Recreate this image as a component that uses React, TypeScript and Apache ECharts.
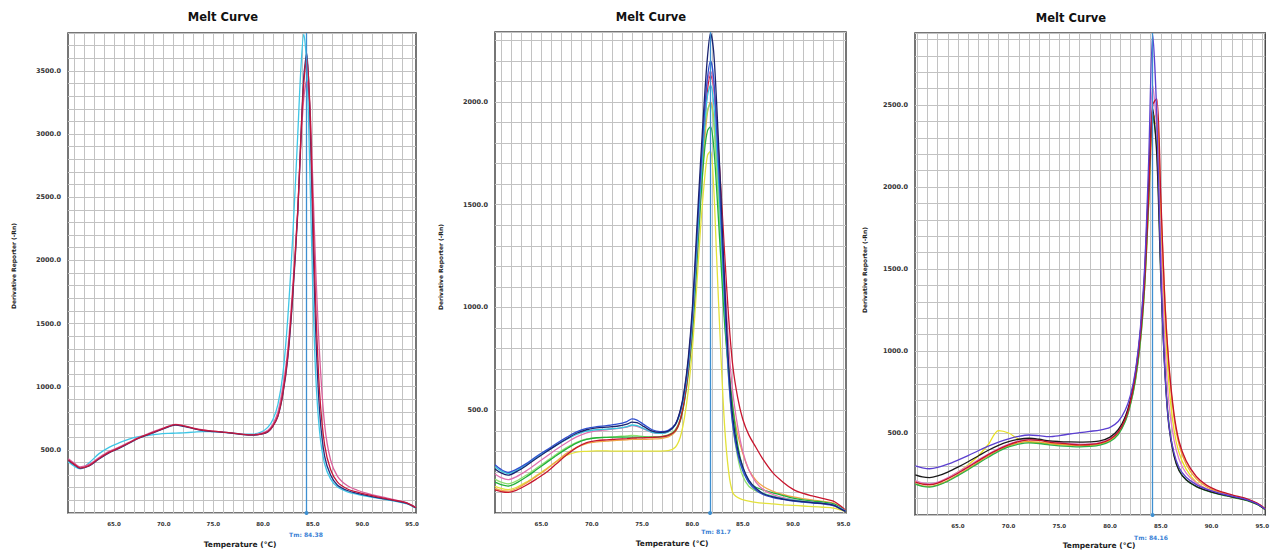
import React, { useEffect, useRef } from "react";
import * as echarts from "echarts";

// ---------- data ----------
const X_LABELS = [65, 70, 75, 80, 85, 90, 95];
const X_GRID = [61, 62, 63, 64, 65, 66, 67, 68, 69, 70, 71, 72, 73, 74, 75, 76, 77, 78, 79, 80, 81, 82, 83, 84, 85, 86, 87, 88, 89, 90, 91, 92, 93, 94, 95];
const X_MIN = [60.37, 60.4, 60.77];
const X_MAX = [95.4, 95.25, 95.3];
const Y_MAX = [3800, 2340, 2940];
const TM = [84.38, 81.75, 84.19];
const TM_LABELS = ["Tm: 84.38", "Tm: 81.7", "Tm: 84.16"];
const TITLE = "Melt Curve";
const X_NAME = "Temperature (°C)";
const Y_NAME = "Derivative Reporter (-Rn)";

// Panel 1
const T1 = [60.4, 61, 61.6, 62.5, 63.5, 64.5, 65.5, 66.5, 67.5, 68.5, 69.5, 70.5, 71.2, 72, 73, 74, 75, 76, 77, 78, 79, 79.8, 80.5, 81, 81.5, 82, 82.5, 83, 83.5, 83.8, 84.1, 84.4, 84.7, 85, 85.3, 85.7, 86.2, 86.8, 87.5, 88.5, 89.5, 90.5, 91.5, 92.5, 93.5, 94.5, 95.4];
const P1_RED = [420, 385, 356, 375, 432, 480, 515, 555, 595, 625, 655, 685, 700, 690, 670, 655, 648, 640, 632, 622, 618, 625, 645, 690, 770, 950, 1250, 1750, 2400, 2950, 3400, 3600, 3250, 2450, 1650, 950, 540, 345, 245, 190, 165, 145, 128, 112, 97, 78, 42];
const P1_PINK = [430, 395, 365, 385, 440, 488, 522, 560, 598, 630, 660, 688, 702, 692, 672, 657, 648, 640, 632, 623, 620, 630, 655, 705, 800, 1000, 1300, 1800, 2400, 2900, 3280, 3420, 3250, 2650, 1950, 1250, 700, 420, 290, 215, 180, 155, 135, 118, 100, 80, 45];
const P1_CYAN = [405, 370, 350, 398, 470, 520, 555, 585, 605, 615, 625, 630, 632, 635, 640, 645, 645, 640, 632, 625, 625, 640, 680, 740, 860, 1100, 1550, 2200, 3000, 3500, 3790, 3550, 2750, 1800, 1100, 640, 390, 270, 205, 168, 148, 132, 118, 104, 90, 72, 38];
const P1_NAVY = [418, 382, 354, 372, 428, 476, 512, 552, 592, 622, 652, 682, 696, 686, 668, 652, 645, 638, 630, 620, 616, 624, 642, 688, 765, 940, 1230, 1720, 2380, 2950, 3450, 3640, 3200, 2300, 1450, 800, 450, 300, 220, 178, 155, 138, 122, 108, 94, 76, 40];

// Panel 2
const T2 = [60.4, 61, 61.7, 62.5, 63.5, 64.5, 65.5, 66.5, 67.5, 68.5, 69.5, 70.5, 71.5, 72.5, 73.5, 74, 74.5, 75.2, 76, 76.8, 77.6, 78.3, 78.8, 79.2, 79.6, 80, 80.4, 80.8, 81.2, 81.5, 81.8, 82.1, 82.4, 82.8, 83.2, 83.6, 84, 84.5, 85, 85.6, 86.3, 87, 88, 89, 90, 91, 92, 93, 94, 94.7, 95.2];
const P2_NAVY = [214, 195, 184, 200, 230, 265, 298, 330, 360, 388, 405, 414, 418, 422, 432, 442, 440, 420, 398, 392, 398, 430, 500, 600, 760, 1000, 1350, 1700, 2020, 2220, 2335, 2250, 2000, 1580, 1120, 720, 470, 310, 225, 160, 120, 95, 78, 68, 60, 55, 50, 46, 38, 20, 8];
const P2_BLUE = [235, 212, 198, 212, 240, 275, 306, 338, 368, 395, 412, 420, 425, 432, 445, 458, 452, 430, 405, 396, 402, 432, 495, 590, 740, 970, 1300, 1640, 1950, 2120, 2200, 2120, 1880, 1480, 1040, 660, 430, 285, 205, 148, 112, 90, 75, 66, 58, 53, 48, 44, 36, 20, 8];
const P2_CYAN = [225, 205, 192, 205, 235, 270, 300, 330, 358, 382, 398, 405, 408, 412, 420, 428, 425, 410, 392, 388, 395, 428, 490, 580, 720, 940, 1250, 1580, 1880, 2030, 2080, 2000, 1780, 1420, 1020, 680, 450, 300, 215, 158, 120, 96, 80, 70, 62, 56, 51, 47, 40, 24, 10];
const P2_PINK = [190, 172, 162, 176, 205, 240, 275, 310, 342, 370, 390, 400, 405, 410, 418, 425, 422, 408, 392, 388, 396, 430, 495, 590, 740, 960, 1280, 1620, 1930, 2100, 2150, 2080, 1870, 1530, 1150, 820, 590, 420, 300, 210, 150, 115, 90, 75, 64, 57, 52, 47, 40, 24, 10];
const P2_GREEN = [150, 138, 131, 145, 175, 210, 245, 280, 312, 340, 358, 366, 368, 369, 369, 369, 369, 369, 369, 370, 378, 400, 450, 540, 680, 880, 1180, 1500, 1760, 1860, 1880, 1790, 1580, 1250, 920, 700, 520, 330, 220, 150, 125, 112, 98, 85, 72, 64, 58, 53, 45, 28, 12];
const P2_LIGHTGREEN = [165, 150, 142, 155, 184, 218, 252, 286, 318, 344, 360, 366, 368, 372, 375, 378, 376, 372, 370, 372, 380, 405, 460, 560, 710, 930, 1250, 1580, 1850, 1960, 1990, 1900, 1680, 1320, 950, 650, 430, 270, 180, 130, 108, 95, 82, 72, 64, 58, 53, 48, 40, 24, 10];
const P2_RED = [112, 104, 100, 110, 135, 165, 198, 240, 282, 318, 342, 352, 356, 359, 362, 364, 365, 366, 368, 370, 378, 400, 455, 550, 700, 920, 1240, 1580, 1880, 2060, 2130, 2080, 1900, 1600, 1260, 950, 720, 560, 456, 380, 320, 262, 195, 150, 115, 95, 82, 70, 58, 35, 14];
const P2_YELLOW = [130, 120, 114, 124, 150, 182, 215, 250, 280, 296, 300, 302, 302, 301, 301, 301, 301, 301, 301, 301, 303, 320, 370, 460, 600, 800, 1080, 1380, 1620, 1740, 1760, 1600, 1250, 800, 420, 200, 100, 75, 65, 58, 52, 48, 44, 40, 37, 34, 31, 28, 24, 15, 6];
const P2_ORANGE = [120, 110, 106, 118, 145, 178, 212, 252, 290, 320, 338, 346, 350, 354, 356, 358, 358, 358, 360, 362, 370, 395, 450, 545, 690, 900, 1200, 1520, 1800, 1950, 2000, 1930, 1720, 1380, 1020, 720, 520, 380, 290, 210, 160, 130, 105, 90, 78, 70, 63, 57, 48, 30, 12];

// Panel 3
const T3 = [60.8, 61.5, 62.2, 63, 64, 65, 66, 67, 68, 69, 70, 71, 72, 73, 74, 75, 76, 77, 78, 79, 80, 80.8, 81.5, 82, 82.5, 83, 83.4, 83.8, 84.2, 84.6, 85, 85.4, 85.8, 86.3, 86.8, 87.5, 88.5, 89.5, 90.5, 91.5, 92.5, 93.5, 94.5, 95.3];
const P3_PURPLE = [300, 288, 282, 290, 310, 335, 362, 392, 420, 445, 465, 480, 488, 484, 478, 484, 494, 502, 510, 518, 535, 570, 640, 730, 880, 1150, 1500, 2150, 2930, 2450, 1500, 880, 550, 380, 290, 230, 185, 158, 138, 122, 108, 92, 68, 35];
const P3_BLACK = [245, 232, 228, 238, 262, 292, 325, 360, 395, 425, 448, 462, 468, 462, 452, 448, 446, 445, 446, 452, 475, 520, 600, 700, 860, 1120, 1450, 2000, 2480, 2200, 1450, 880, 540, 360, 270, 215, 175, 150, 132, 118, 104, 90, 66, 34];
const P3_RED = [200, 188, 185, 195, 222, 255, 292, 330, 368, 400, 428, 448, 458, 455, 445, 438, 432, 428, 430, 438, 462, 505, 585, 690, 850, 1100, 1420, 1950, 2500, 2540, 1950, 1300, 920, 620, 450, 330, 235, 182, 152, 132, 115, 98, 72, 38];
const P3_PINK = [210, 196, 190, 200, 228, 262, 298, 336, 372, 405, 432, 452, 462, 458, 450, 442, 436, 432, 434, 442, 466, 510, 595, 700, 870, 1130, 1480, 2050, 2620, 2350, 1650, 1050, 680, 460, 340, 255, 195, 160, 138, 122, 108, 94, 70, 36];
const P3_YELLOW = [205, 192, 186, 196, 225, 262, 305, 360, 430, 515, 500, 462, 445, 440, 436, 432, 428, 425, 428, 436, 458, 500, 580, 680, 830, 1080, 1400, 1900, 2400, 2380, 1800, 1200, 800, 520, 380, 280, 200, 160, 138, 120, 105, 90, 66, 32];
const P3_ORANGE = [190, 178, 174, 184, 210, 245, 282, 322, 360, 395, 422, 440, 448, 444, 436, 430, 426, 422, 424, 432, 455, 498, 575, 675, 825, 1070, 1380, 1880, 2400, 2450, 1900, 1320, 900, 600, 430, 310, 220, 172, 145, 126, 110, 94, 70, 36];
const P3_GREEN = [188, 175, 170, 180, 206, 240, 276, 315, 352, 388, 415, 432, 440, 436, 428, 422, 418, 415, 418, 426, 448, 490, 570, 670, 820, 1060, 1380, 1900, 2440, 2250, 1500, 900, 560, 370, 275, 215, 172, 148, 130, 116, 102, 88, 64, 32];

const PANELS = [
  {
    temps: T1,
    curves: [
      { name: "cyan", color: "#3fc6e6", values: P1_CYAN },
      { name: "pink", color: "#d9609c", values: P1_PINK },
      { name: "navy", color: "#24307f", values: P1_NAVY },
      { name: "red", color: "#c4183a", values: P1_RED },
    ],
  },
  {
    temps: T2,
    curves: [
      { name: "yellow", color: "#e4e23a", values: P2_YELLOW },
      { name: "orange", color: "#f0a548", values: P2_ORANGE },
      { name: "lightgreen", color: "#8fe070", values: P2_LIGHTGREEN },
      { name: "green", color: "#22b03a", values: P2_GREEN },
      { name: "red", color: "#c8162e", values: P2_RED },
      { name: "pink", color: "#e070b0", values: P2_PINK },
      { name: "cyan", color: "#35c5dc", values: P2_CYAN },
      { name: "blue", color: "#2f4fd0", values: P2_BLUE },
      { name: "navy", color: "#1b2370", values: P2_NAVY },
    ],
  },
  {
    temps: T3,
    curves: [
      { name: "yellow", color: "#e8e020", values: P3_YELLOW },
      { name: "orange", color: "#f0a030", values: P3_ORANGE },
      { name: "green", color: "#2eb046", values: P3_GREEN },
      { name: "pink", color: "#e07ac8", values: P3_PINK },
      { name: "black", color: "#1a1a1a", values: P3_BLACK },
      { name: "red", color: "#c4122c", values: P3_RED },
      { name: "purple", color: "#5b3fd0", values: P3_PURPLE },
    ],
  },
];

// ---------- layout ----------
const GRIDS = [
  { left: 68, top: 33, width: 348, height: 480 },
  { left: 495, top: 32, width: 351, height: 481 },
  { left: 915, top: 33, width: 351, height: 482 },
];
const TITLE_POS = [[223, 17], [651, 17], [1071, 18]];
const XNAME_POS = [[240, 544], [672, 543], [1099, 545]];
const YNAME_POS = [[13, 266], [440, 267], [864, 270]];
const TM_POS = [[306, 534], [716, 531], [1151, 537]];
const FONT = '"DejaVu Sans", "Liberation Sans", Arial, sans-serif';

function buildOption() {
  const grid = GRIDS.map((g) => ({
    ...g,
    show: true,
    borderColor: "#4a4a4a",
    borderWidth: 1.5,
    backgroundColor: "#ffffff",
    containLabel: false,
  }));

  const xAxis = GRIDS.map((_, i) => ({
    type: "value",
    gridIndex: i,
    min: X_MIN[i],
    max: X_MAX[i],
    axisLine: { show: false },
    axisTick: { show: false, customValues: X_GRID },
    axisLabel: {
      customValues: X_LABELS,
      formatter: (v: number) => v.toFixed(1),
      fontSize: 5.5,
      fontWeight: "bold",
      fontFamily: FONT,
      color: "#333",
      margin: 8,
    },
    splitLine: { show: true, lineStyle: { color: "#c2c2c2", width: 1 } },
  }));

  const yAxis = GRIDS.map((_, i) => ({
    type: "value",
    gridIndex: i,
    min: 0,
    max: Y_MAX[i],
    interval: 100,
    axisLine: { show: false },
    axisTick: { show: false },
    axisLabel: {
      formatter: (v: number) => (v > 0 && v % 500 === 0 ? v.toFixed(1) : ""),
      fontSize: 6.5,
      fontWeight: "bold",
      fontFamily: FONT,
      color: "#333",
      margin: 7,
    },
    splitLine: { show: true, lineStyle: { color: "#c2c2c2", width: 1 } },
  }));

  const series: any[] = [];
  PANELS.forEach((p, i) => {
    p.curves.forEach((c, k) => {
      const s: any = {
        type: "line",
        name: c.name,
        xAxisIndex: i,
        yAxisIndex: i,
        showSymbol: false,
        smooth: 0.3,
        color: c.color,
        lineStyle: { color: c.color, width: 1.3 },
        data: p.temps.map((t, j) => [t, c.values[j]]),
        silent: true,
      };
      if (k === 0) {
        s.markLine = {
          silent: true,
          symbol: ["circle", "none"],
          symbolSize: 4,
          label: { show: false },
          lineStyle: { color: "#3d8fd1", width: 1.3, type: "solid" },
          data: [{ xAxis: TM[i] }],
          z: 10,
        };
      }
      series.push(s);
    });
  });

  const txt = (x: number, y: number, text: string, font: string, fill: string, rotation = 0) => ({
    type: "text",
    x,
    y,
    rotation,
    style: {
      text,
      font,
      fill,
      align: "center",
      verticalAlign: "middle",
      textAlign: "center",
      textVerticalAlign: "middle",
    },
  });

  const graphic: any[] = [];
  for (let i = 0; i < 3; i++) {
    graphic.push(txt(TITLE_POS[i][0], TITLE_POS[i][1], TITLE, `bold 11.5px ${FONT}`, "#111"));
    graphic.push(txt(XNAME_POS[i][0], XNAME_POS[i][1], X_NAME, `bold 7.5px ${FONT}`, "#222"));
    graphic.push(txt(YNAME_POS[i][0], YNAME_POS[i][1], Y_NAME, `bold 6px ${FONT}`, "#222", Math.PI / 2));
    graphic.push(txt(TM_POS[i][0], TM_POS[i][1], TM_LABELS[i], `bold 6px ${FONT}`, "#3a7fd5"));
  }

  return {
    animation: false,
    backgroundColor: "#ffffff",
    grid,
    xAxis,
    yAxis,
    series,
    graphic,
  };
}

export default function App() {
  const ref = useRef<HTMLDivElement>(null);
  useEffect(() => {
    if (!ref.current) return;
    const chart = echarts.init(ref.current, undefined, { renderer: "svg" });
    chart.setOption(buildOption() as any);
    return () => chart.dispose();
  }, []);
  return (
    <div
      ref={ref}
      style={{ position: "fixed", left: 0, top: 0, width: 1272, height: 551, background: "#fff" }}
    />
  );
}
